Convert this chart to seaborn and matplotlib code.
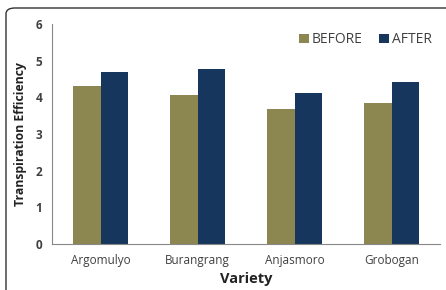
import seaborn as sns
import matplotlib.pyplot as plt
import pandas as pd
import numpy as np
from matplotlib.patches import FancyBboxPatch

varieties = ["Argomulyo", "Burangrang", "Anjasmoro", "Grobogan"]
before = [4.31, 4.06, 3.68, 3.84]
after = [4.70, 4.77, 4.11, 4.42]

data = pd.DataFrame({
    "Variety": varieties * 2,
    "Value": before + after,
    "Period": ["BEFORE"] * 4 + ["AFTER"] * 4,
})

sns.set_style("white")
plt.rcParams["font.family"] = ["Open Sans", "DejaVu Sans"]

fig = plt.figure(figsize=(4.46, 2.90), dpi=100)
ax = fig.add_axes([52 / 446, 46 / 290, 388 / 446, 220 / 290])

sns.barplot(data=data, x="Variety", y="Value", hue="Period",
            palette={"BEFORE": "#8c8651", "AFTER": "#17365d"},
            width=0.57, gap=0, saturation=1, linewidth=0, edgecolor="none", ax=ax)

ax.set_ylim(0, 6)
ax.set_xlim(-0.5, 3.5)
ax.set_yticks(range(7))
ax.set_xticks(np.arange(-0.5, 4, 1), minor=True)
ax.tick_params(axis="x", which="major", length=0, pad=7, labelsize=8.5, colors="#404040")
ax.tick_params(axis="x", which="minor", length=4, color="#888888", direction="out")
ax.tick_params(axis="y", length=4, direction="out", labelsize=8.5,
               colors="#404040", pad=3)
ax.tick_params(axis="y", color="#888888")
for lab in ax.get_yticklabels():
    lab.set_fontweight("bold")
for s in ["top", "right"]:
    ax.spines[s].set_visible(False)
for s in ["left", "bottom"]:
    ax.spines[s].set_color("#888888")
    ax.spines[s].set_linewidth(0.8)

ax.set_xlabel("Variety", fontsize=10.5, fontweight="bold", color="#222222", labelpad=4)
ax.set_ylabel("Transpiration Efficiency", fontsize=8.8, fontweight="bold", color="#222222", labelpad=6)

leg = ax.legend(loc="upper right", bbox_to_anchor=(1.0, 1.0), ncol=2, frameon=False,
                fontsize=10, handlelength=0.7, handleheight=0.7, handletextpad=0.2,
                columnspacing=1.2, borderaxespad=0.2)
for t in leg.get_texts():
    t.set_color("#404040")

border = FancyBboxPatch((6 / 446, -0.2), 1.2, 1.2 - 8 / 290,
                        boxstyle="round,pad=0,rounding_size=0.02",
                        transform=fig.transFigure, fill=False,
                        edgecolor="#333333", linewidth=1.0, clip_on=False)
fig.patches.append(border)

fig.savefig("out.png", dpi=100)
plt.close(fig)
